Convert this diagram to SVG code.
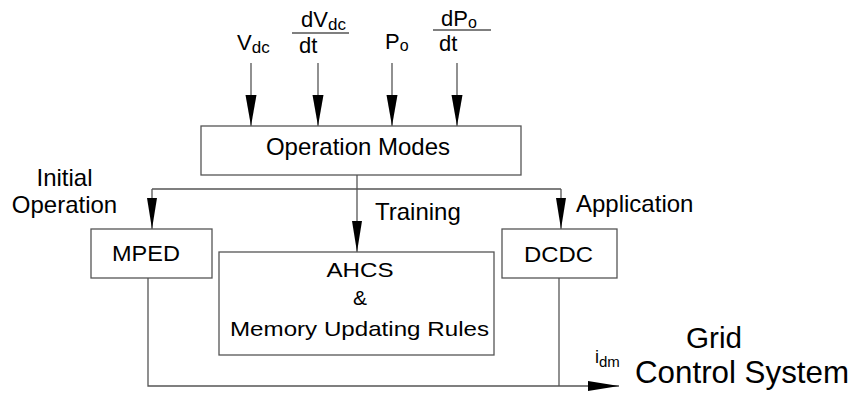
<svg xmlns="http://www.w3.org/2000/svg" width="855" height="395" viewBox="0 0 855 395">
<style>
text{font-family:"Liberation Sans",Arial,sans-serif;fill:#000}
.box{fill:#fff;stroke:#555;stroke-width:1.3}
.ln{fill:none;stroke:#555;stroke-width:1.3}
.t24{font-size:24px}
.t22{font-size:22px}
</style>
<defs>
<marker id="ah" markerWidth="31" markerHeight="12" refX="31" refY="6" orient="auto" markerUnits="userSpaceOnUse"><path d="M0,0.5 L31,6 L0,11.5 z" fill="#000"/></marker>
<marker id="ah2" markerWidth="31" markerHeight="11" refX="31" refY="5.5" orient="auto" markerUnits="userSpaceOnUse"><path d="M0,0.5 L31,5.5 L0,10.5 z" fill="#000"/></marker>
</defs>
<rect width="855" height="395" fill="#fff"/>
<g id="connectors">
<line class="ln" x1="251" y1="63" x2="251" y2="126" marker-end="url(#ah)"/>
<line class="ln" x1="318" y1="63" x2="318" y2="126" marker-end="url(#ah)"/>
<line class="ln" x1="392" y1="63" x2="392" y2="126" marker-end="url(#ah)"/>
<line class="ln" x1="457" y1="63" x2="457" y2="126" marker-end="url(#ah)"/>
<line class="ln" x1="357" y1="175" x2="357" y2="189"/>
<line class="ln" x1="152" y1="189" x2="561" y2="189"/>
<line class="ln" x1="152" y1="189" x2="152" y2="229" marker-end="url(#ah2)"/>
<line class="ln" x1="357" y1="189" x2="357" y2="252" marker-end="url(#ah2)"/>
<line class="ln" x1="561" y1="189" x2="561" y2="229" marker-end="url(#ah2)"/>
<polyline class="ln" points="148,278 148,386 619,386" marker-end="url(#ah2)"/>
<line class="ln" x1="559" y1="278" x2="559" y2="386"/>
</g>
<g id="inputs">
<text class="t22" x="237" y="50">V<tspan font-size="17" dy="3">dc</tspan></text>
<text class="t22" x="301" y="27">dV<tspan font-size="17" dy="3">dc</tspan></text>
<line class="ln" x1="292" y1="33" x2="349" y2="33"/>
<text class="t22" x="299" y="53">dt</text>
<text class="t22" x="385" y="49">P<tspan font-size="16" dy="2">o</tspan></text>
<text class="t22" x="441" y="26">dP<tspan font-size="16" dy="2">o</tspan></text>
<line class="ln" x1="433" y1="30" x2="491" y2="30"/>
<text class="t22" x="439" y="51">dt</text>
</g>
<g id="operation-modes">
<rect class="box" x="201" y="126" width="320" height="49"/>
<text class="t24" x="358" y="155" text-anchor="middle">Operation Modes</text>
</g>
<g id="labels">
<text class="t24" x="64.5" y="186" text-anchor="middle">Initial</text>
<text class="t24" x="64.5" y="213" text-anchor="middle">Operation</text>
<text class="t24" x="375" y="220">Training</text>
<text class="t24" x="576" y="212">Application</text>
</g>
<g id="mped">
<rect class="box" x="91" y="229" width="121" height="49"/>
<text x="112" y="261" font-size="22" textLength="68" lengthAdjust="spacingAndGlyphs">MPED</text>
</g>
<g id="ahcs">
<rect class="box" x="219" y="252" width="275" height="103"/>
<text x="326.5" y="277" font-size="21" textLength="67" lengthAdjust="spacingAndGlyphs">AHCS</text>
<text x="360" y="305" font-size="21" text-anchor="middle">&amp;</text>
<text x="230" y="336" font-size="21" textLength="259" lengthAdjust="spacingAndGlyphs">Memory Updating Rules</text>
</g>
<g id="dcdc">
<rect class="box" x="502" y="229" width="115" height="49"/>
<text x="524" y="262" font-size="22" textLength="69" lengthAdjust="spacingAndGlyphs">DCDC</text>
</g>
<g id="output">
<text x="595" y="363" font-size="18">i<tspan font-size="15" dy="4">dm</tspan></text>
<text x="686" y="348" font-size="30" textLength="56" lengthAdjust="spacingAndGlyphs">Grid</text>
<text x="635" y="383" font-size="32" textLength="214" lengthAdjust="spacingAndGlyphs">Control System</text>
</g>
</svg>
